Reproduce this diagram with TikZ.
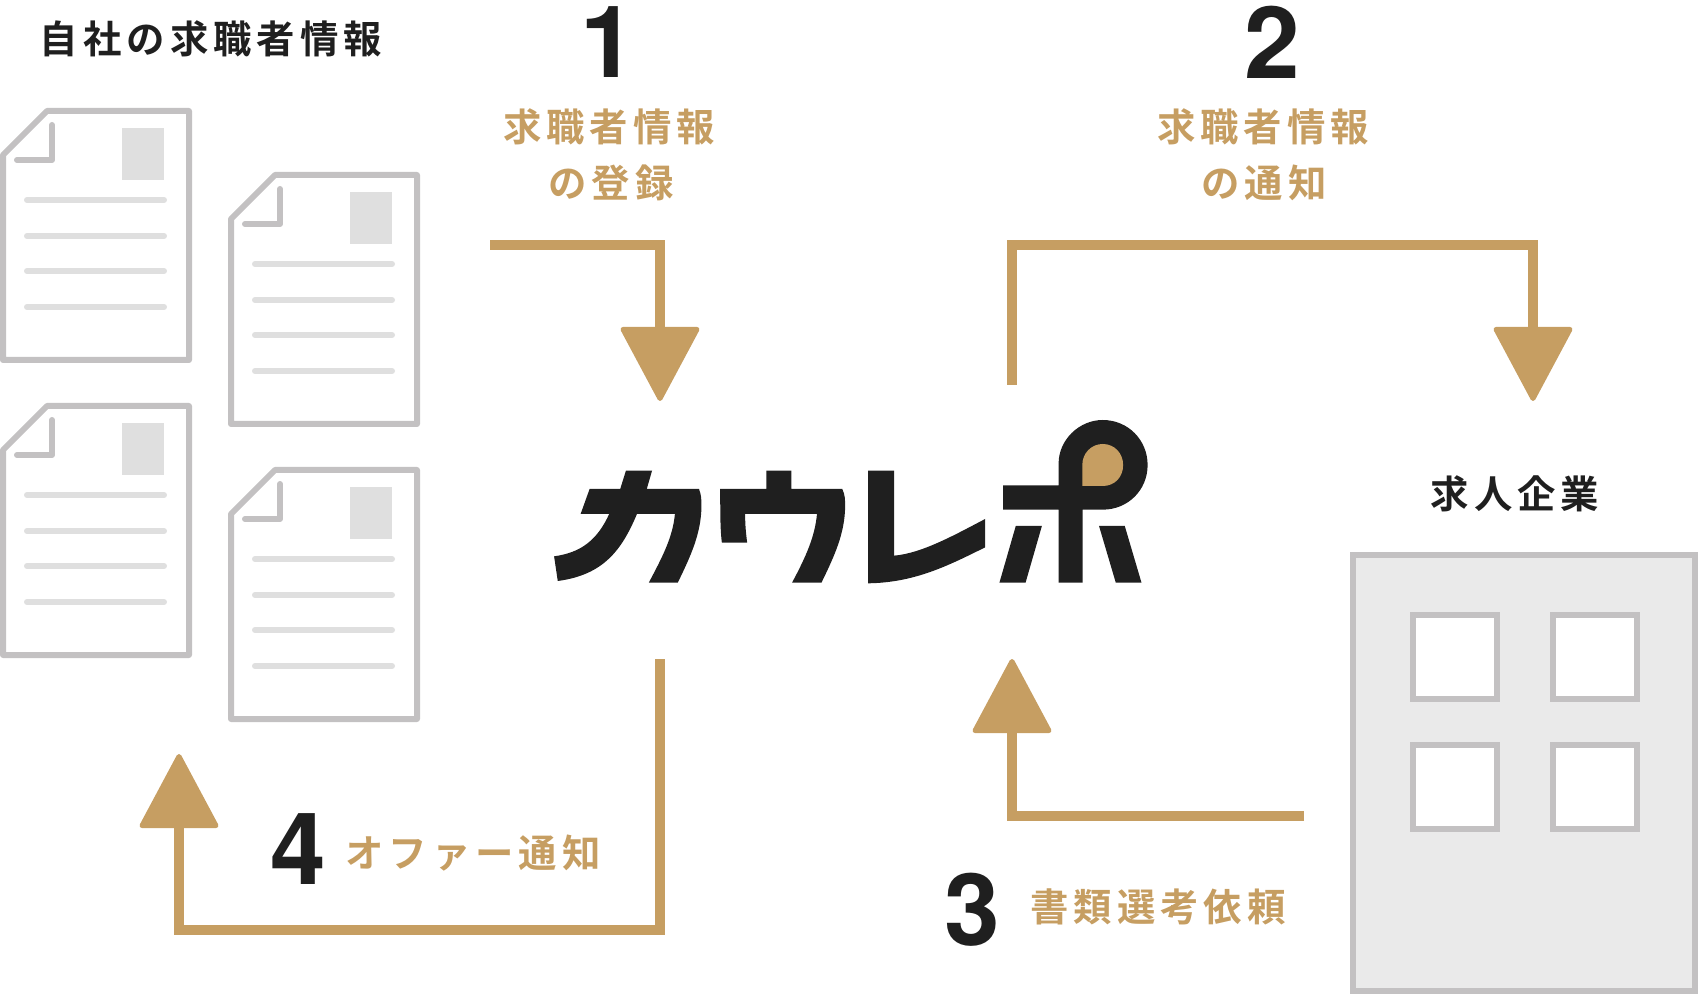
\documentclass[tikz,border=0pt]{standalone}
\usepackage{fontspec}
\usetikzlibrary{arrows.meta}
\setmainfont{Liberation Sans}
\newfontfamily\jp{Noto Sans CJK JP Bold}[LetterSpace=13]
\newfontfamily\num{TeX Gyre Heros}[BoldFont={TeX Gyre Heros Bold}]
\definecolor{gold}{HTML}{C69E62}
\definecolor{ink}{HTML}{1F1F1F}
\definecolor{edge}{HTML}{C3C1C2}
\definecolor{soft}{HTML}{DFDFDF}
\definecolor{fillbld}{HTML}{EAEAEA}
\tikzset{
  flow/.style={draw=gold,line width=5pt,line cap=butt,miter limit=10,
    -{Triangle[length=38.5pt,width=40.5pt,round,line width=2.5pt,fill=gold]}},
  paper/.style={draw=edge,line width=3pt,line join=round,line cap=round},
  rule/.style={draw=soft,line width=3pt,line cap=round},
  photo/.style={fill=soft},
  wall/.style={draw=edge,line width=3pt,fill=fillbld},
  pane/.style={draw=edge,line width=3pt,fill=white},
  glabel/.style={text=gold,font=\jp\fontsize{19.2pt}{26pt}\selectfont,align=center,inner sep=0pt},
  dlabel/.style={text=ink,font=\jp\fontsize{19.2pt}{26pt}\selectfont,align=center,inner sep=0pt},
  stepnum/.style={text=ink,font=\num\bfseries\fontsize{50pt}{50pt}\selectfont,inner sep=0pt},
  logo/.style={fill=ink,draw=none}
}
\begin{document}
\begin{tikzpicture}[x=0.5pt,y=-0.5pt]
\useasboundingbox (0,0) rectangle (1698,994);
% documents
\foreach \dx/\dy in {0/0,228/64,0/295,228/359}{
\begin{scope}[shift={(\dx,\dy)}]
  \draw[paper,fill=white] (47,111) -- (189,111) -- (189,360) -- (3,360) -- (3,155) -- cycle;
  \draw[paper] (52,125) -- (52,160) -- (17,160);
  \fill[photo] (122,128) rectangle (164,180);
  \foreach \ly in {200,236,271,307}{\draw[rule] (27,\ly) -- (164,\ly);}
\end{scope}}
% building
\draw[wall] (1353,555) rectangle (1695,991);
\foreach \wx/\wy in {1410/612,1550/612,1410/742,1550/742}{
  \draw[pane] (\wx+3,\wy+3) rectangle (\wx+87,\wy+87);}
% logo
\begin{scope}[shift={(530,400)},xscale=0.4082,yscale=0.3333]
  \fill[logo] (235,212) -- (299,212) -- (286,267) -- (414,267)
     .. controls (420,285) and (420,300) .. (420,320)
     .. controls (419,400) and (395,465) .. (362,548) -- (291,548)
     .. controls (325,470) and (350,410) .. (355,342) -- (262,342)
     .. controls (225,450) and (180,525) .. (68,543) -- (59,469)
     .. controls (125,458) and (165,420) .. (194,342) -- (124,342) -- (146,267) -- (221,267) -- cycle;
  \fill[logo] (579,212) -- (640,212) -- (640,267) -- (765,267)
     .. controls (772,285) and (772,300) .. (772,320)
     .. controls (771,400) and (747,465) .. (714,548) -- (642,548)
     .. controls (676,470) and (698,410) .. (703,342) -- (527,342)
     .. controls (527,375) and (529,400) .. (532,428) -- (470,428)
     .. controls (466,390) and (466,340) .. (466,267) -- (579,267) -- cycle;
  \fill[logo] (828,212) -- (892,212) -- (892,467)
     .. controls (960,460) and (1040,405) .. (1115,357) -- (1115,442)
     .. controls (1020,500) and (940,548) .. (828,550) -- cycle;
  \fill[logo] (1159,256) -- (1295,256) -- (1295,190)
     .. controls (1295,120) and (1345,60) .. (1403,60)
     .. controls (1465,60) and (1513,120) .. (1513,195)
     .. controls (1513,270) and (1465,329) .. (1403,329)
     -- (1354,329) -- (1354,548) -- (1295,548) -- (1295,329) -- (1159,329) -- cycle;
  \fill[gold] (1353,258) -- (1353,195)
     .. controls (1353,160) and (1375,132) .. (1403,132)
     .. controls (1432,132) and (1453,160) .. (1453,195)
     .. controls (1453,232) and (1432,258) .. (1403,258) -- cycle;
  \fill[logo] (1190,378) -- (1254,378) -- (1214,548) -- (1150,548) -- cycle;
  \fill[logo] (1394,378) -- (1457,378) -- (1498,548) -- (1435,548) -- cycle;
\end{scope}
% connector end points
\coordinate (a1) at (490,245);
\coordinate (a1c) at (660,245);
\coordinate (a1e) at (660,401);
\coordinate (a2) at (1012,385);
\coordinate (a2c) at (1012,245);
\coordinate (a2d) at (1533,245);
\coordinate (a2e) at (1533,401);
\coordinate (a3) at (1304,816);
\coordinate (a3c) at (1012,816);
\coordinate (a3e) at (1012,659);
\coordinate (a4) at (660,659);
\coordinate (a4c) at (660,930);
\coordinate (a4d) at (179,930);
\coordinate (a4e) at (179,754);
\draw[flow] (a1) -- (a1c) -- (a1e);
\draw[flow] (a2) -- (a2c) -- (a2d) -- (a2e);
\draw[flow] (a3) -- (a3c) -- (a3e);
\draw[flow] (a4) -- (a4c) -- (a4d) -- (a4e);
% texts
\node[dlabel] (t0) at (211,39) {自社の求職者情報};
\node[dlabel] (t5) at (1515,494) {求人企業};
\node[stepnum] (n1) at (608,42) {1};
\node[stepnum] (n2) at (1272,42) {2};
\node[stepnum] (n3) at (972,910) {3};
\node[stepnum] (n4) at (298,849) {4};
\node[glabel] (l1a) at (609,127) {求職者情報};
\node[glabel] (l1b) at (611,183) {の登録};
\node[glabel] (l2a) at (1263,127) {求職者情報};
\node[glabel] (l2b) at (1264,183) {の通知};
\node[glabel] (l3) at (1158,907) {書類選考依頼};
\node[glabel] (l4) at (473,853) {オファー通知};
\end{tikzpicture}
\end{document}
